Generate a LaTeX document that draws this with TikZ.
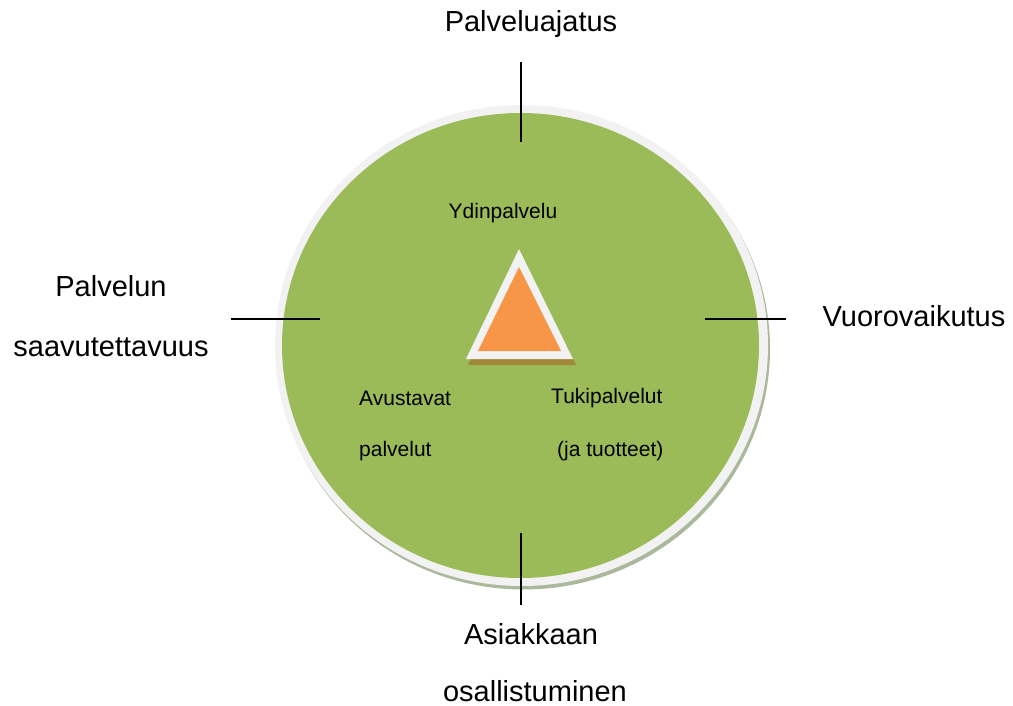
\documentclass[tikz,border=0pt]{standalone}
\usepackage{fontspec}
\setmainfont{Liberation Sans}
\definecolor{ringgreen}{HTML}{9BBB59}
\definecolor{ringwhite}{HTML}{F2F2F2}
\definecolor{ringshadow}{HTML}{ABB89C}
\definecolor{coreorange}{HTML}{F79646}
\definecolor{coreshadow}{HTML}{A08838}
\begin{document}
\begin{tikzpicture}[x=1pt,y=-1pt,
  biglabel/.style={font=\fontsize{29}{29}\selectfont, inner sep=0pt},
  smalllabel/.style={font=\fontsize{21}{21}\selectfont, inner sep=0pt},
  tick/.style={line width=1.6pt, black}]
\useasboundingbox (0,0) rectangle (1013,706);

% disc: shadow, light rim, green face
\fill[ringshadow] (523.5,349) ellipse [x radius=246.5, y radius=240.5];
\fill[ringwhite] (521.5,345.5) ellipse [x radius=246.5, y radius=240.5];
\fill[ringgreen] (520.5,345.5) ellipse [x radius=238.5, y radius=232.5];

% central triangle: shadow, rim, orange core
\fill[coreshadow] (521,255) -- (576,365) -- (468,365) -- cycle;
\fill[ringwhite] (519,249) -- (573,359) -- (466,359) -- cycle;
\fill[coreorange] (519,267) -- (561,351) -- (478,351) -- cycle;

% tick marks
\coordinate (tTop) at (521,62);   \coordinate (tTopEnd) at (521,142);
\coordinate (tLeft) at (231,319); \coordinate (tLeftEnd) at (320,319);
\coordinate (tRight) at (786,319);\coordinate (tRightEnd) at (705,319);
\coordinate (tBot) at (521,605);  \coordinate (tBotEnd) at (521,533);
\draw[tick] (tTop) -- (tTopEnd);
\draw[tick] (tLeft) -- (tLeftEnd);
\draw[tick] (tRight) -- (tRightEnd);
\draw[tick] (tBot) -- (tBotEnd);

% outer labels
\node[biglabel] (top) at (531,24) {Palveluajatus};
\node[biglabel] (left1) at (111,286) {Palvelun};
\node[biglabel] (left2) at (111,347) {saavutettavuus};
\node[biglabel] (right) at (914,316) {Vuorovaikutus};
\node[biglabel] (bot1) at (531,634) {Asiakkaan};
\node[biglabel] (bot2) at (535,691) {osallistuminen};

% inner labels
\node[smalllabel] (core) at (503,213) {Ydinpalvelu};
\node[smalllabel, anchor=west] (aux1) at (359,398) {Avustavat};
\node[smalllabel, anchor=west] (aux2) at (359,451) {palvelut};
\node[smalllabel, anchor=west] (sup1) at (551,398) {Tukipalvelut};
\node[smalllabel, anchor=west] (sup2) at (557,451) {(ja tuotteet)};
\end{tikzpicture}
\end{document}
